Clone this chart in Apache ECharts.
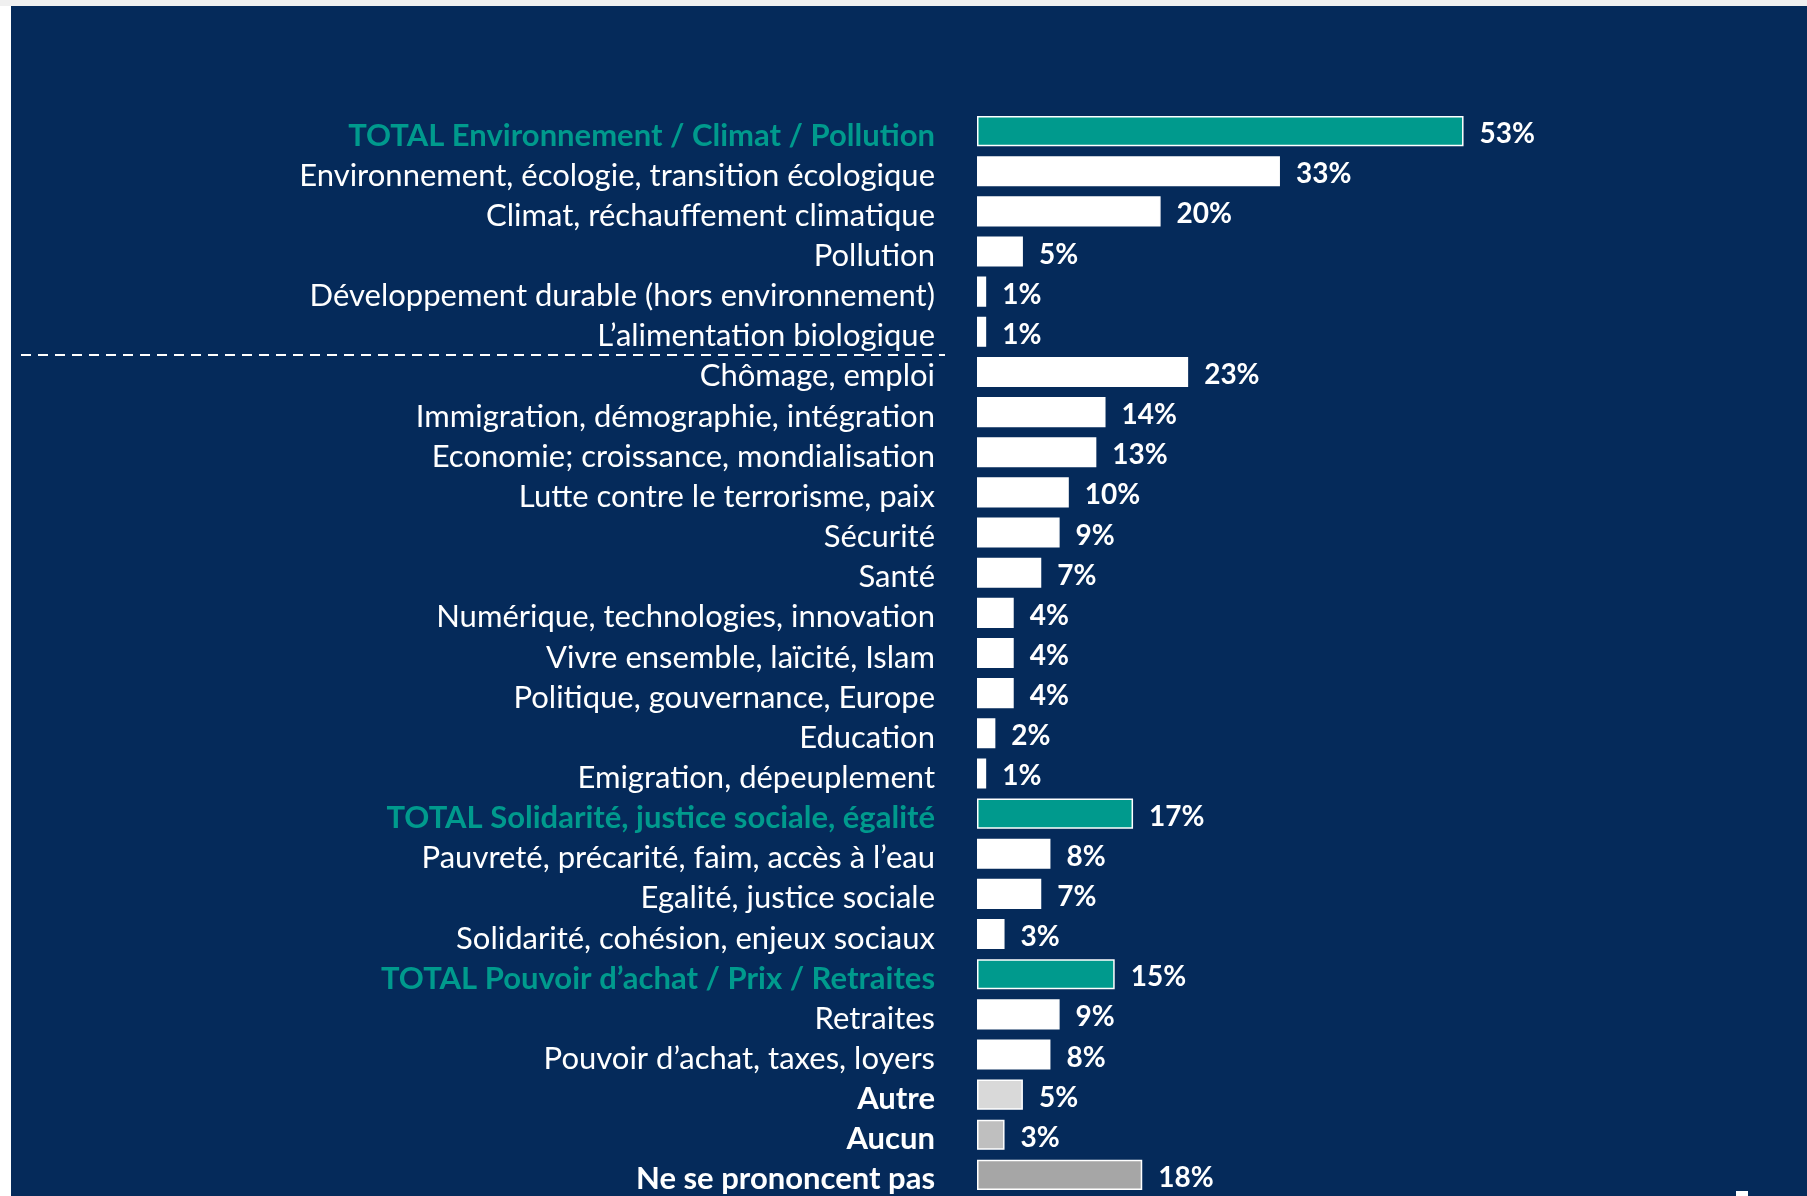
<!DOCTYPE html>
<html>
<head>
<meta charset="utf-8">
<script src="https://cdn.jsdelivr.net/npm/echarts@6/dist/echarts.min.js"></script>
<style>
  html, body { margin: 0; padding: 0; background: #ffffff; width: 1807px; height: 1196px; overflow: hidden; }
  #topband { position: absolute; left: 0; top: 0; width: 1807px; height: 6px; background: #f0f0f0; }
  #main { position: absolute; left: 11px; top: 6px; width: 1796px; height: 1190px; background: #052a5a; }
</style>
</head>
<body>
<div id="topband"></div>
<div id="main"></div>
<script>
// libellés (du haut vers le bas)
var categories = [
    'TOTAL Environnement / Climat / Pollution',
    'Environnement, écologie, transition écologique',
    'Climat, réchauffement climatique',
    'Pollution',
    'Développement durable (hors environnement)',
    'L\u2019alimentation biologique',
    'Chômage, emploi',
    'Immigration, démographie, intégration',
    'Economie; croissance, mondialisation',
    'Lutte contre le terrorisme, paix',
    'Sécurité',
    'Santé',
    'Numérique, technologies, innovation',
    'Vivre ensemble, laïcité, Islam',
    'Politique, gouvernance, Europe',
    'Education',
    'Emigration, dépeuplement',
    'TOTAL Solidarité, justice sociale, égalité',
    'Pauvreté, précarité, faim, accès à l\u2019eau',
    'Egalité, justice sociale',
    'Solidarité, cohésion, enjeux sociaux',
    'TOTAL Pouvoir d\u2019achat / Prix / Retraites',
    'Retraites',
    'Pouvoir d\u2019achat, taxes, loyers',
    'Autre',
    'Aucun',
    'Ne se prononcent pas'
];
var values = [53, 33, 20, 5, 1, 1, 23, 14, 13, 10, 9, 7, 4, 4, 4, 2, 1, 17, 8, 7, 3, 15, 9, 8, 5, 3, 18];

// ligne pointillée après cette catégorie
var separatorAfter = 'L\u2019alimentation biologique';

var teal = '#009a8d';
var greys = { 'Autre': '#d9d9d9', 'Aucun': '#bfbfbf', 'Ne se prononcent pas': '#a6a6a6' };

function isTotal(name) { return name.indexOf('TOTAL') === 0; }

var barData = values.map(function (v, i) {
    var c = categories[i];
    var col = '#ffffff';
    if (isTotal(c)) col = teal;
    else if (greys[c]) col = greys[c];
    return { value: v, itemStyle: { color: col } };
});

var myChart = echarts.init(document.getElementById('main'));

var lblPad = [9, 0, 0, 0];

var option = {
    backgroundColor: '#052a5a',
    animation: false,
    grid: { left: 966, top: 105, width: 734.4, height: 1084 },
    xAxis: {
        type: 'value', min: 0, max: 80, show: false
    },
    yAxis: {
        type: 'category',
        inverse: true,
        data: categories,
        axisLine: { show: false },
        axisTick: { show: false },
        axisLabel: {
            interval: 0,
            margin: 42,
            fontFamily: 'Lato',
            fontSize: 31,
            color: '#ffffff',
            formatter: function (v) {
                if (isTotal(v)) return '{t|' + v + '}';
                if (greys[v]) return '{b|' + v + '}';
                return '{n|' + v + '}';
            },
            rich: {
                n: { color: '#ffffff', fontFamily: 'Lato', fontSize: 31, padding: lblPad },
                b: { color: '#ffffff', fontFamily: 'Lato', fontSize: 31, fontWeight: 'bold', padding: lblPad },
                t: { color: teal, fontFamily: 'Lato', fontSize: 31, fontWeight: 'bold', padding: lblPad }
            }
        }
    },
    series: [{
        type: 'bar',
        data: barData,
        barCategoryGap: '25%',
        itemStyle: { borderColor: '#ffffff', borderWidth: 1.5 },
        label: {
            show: true,
            position: 'right',
            distance: 16,
            offset: [0, 3],
            formatter: '{c}%',
            color: '#ffffff',
            fontFamily: 'Lato',
            fontWeight: 'bold',
            fontSize: 28
        }
    }]
};

myChart.setOption(option);

// séparateur pointillé
var i = categories.indexOf(separatorAfter);
var y1 = myChart.convertToPixel({ yAxisIndex: 0 }, categories[i]);
var y2 = myChart.convertToPixel({ yAxisIndex: 0 }, categories[i + 1]);
var ySep = (y1 + y2) / 2 + 3;
myChart.setOption({
    graphic: [
        {
            type: 'line',
            shape: { x1: 10, y1: ySep, x2: 934, y2: ySep },
            style: { stroke: '#ffffff', lineWidth: 2, lineDash: [10, 7] }
        },
        {
            type: 'rect',
            shape: { x: 1725, y: 1185, width: 12, height: 5 },
            style: { fill: '#ffffff' }
        }
    ]
});
</script>
</body>
</html>
